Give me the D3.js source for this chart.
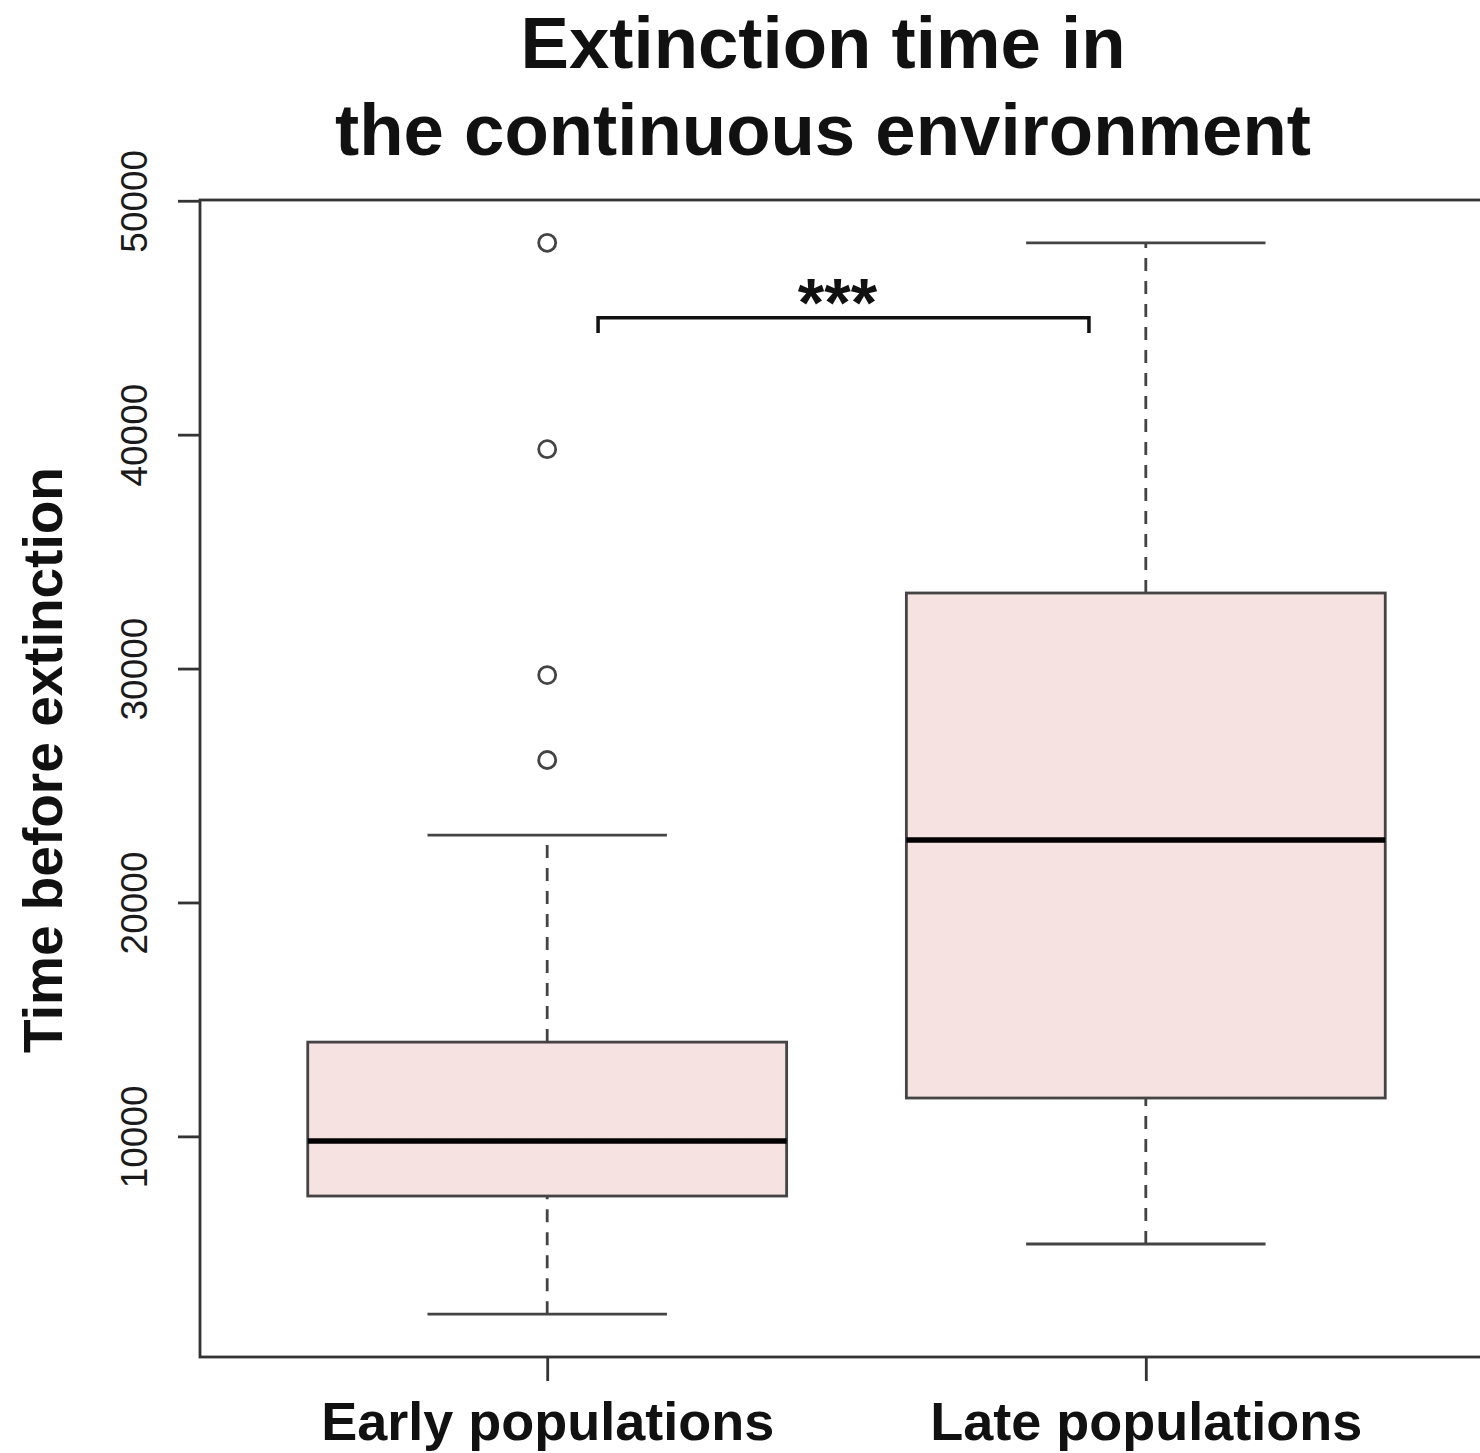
<!DOCTYPE html>
<html>
<head>
<meta charset="utf-8">
<script src="https://cdn.jsdelivr.net/npm/d3@7"></script>
<style>
  html, body { margin: 0; padding: 0; background: #fff; }
  svg { display: block; font-family: "Liberation Sans", Arial, Helvetica, sans-serif; }
</style>
</head>
<body>
<svg id="chart" width="1480" height="1453"></svg>
<script>
// Groups and their five-number summaries (time before extinction)
const groups = ["Early populations", "Late populations"];
const whiskerLow = [2400, 5400];
const quartile1 = [7450, 11640];
const medians = [9800, 22670];
const quartile3 = [14030, 33230];
const whiskerHigh = [22880, 48200];
// Outlying runs beyond the whiskers, per group
const outliers = [[26090, 29720, 39380, 48200], []];
const yTicks = [10000, 20000, 30000, 40000, 50000];

// Significance bracket between the two groups
const bracketFrom = 1.085, bracketTo = 1.905, bracketY = 45000, bracketDrop = 44350;
const bracketLabel = "***";

const titleLines = ["Extinction time in", "the continuous environment"];
const yTitle = "Time before extinction";

const svg = d3.select("#chart");
const plotLeft = 200, plotTop = 200, plotBottom = 1357;

// R-style axis ranges: 4% padding on both ends
const allVals = whiskerLow.concat(whiskerHigh, outliers.flat());
const lo = d3.min(allVals), hi = d3.max(allVals), pad = (hi - lo) * 0.04;
const y = d3.scaleLinear().domain([lo - pad, hi + pad]).range([plotBottom, plotTop]);
const x = d3.scaleLinear().domain([0.42, 2.58]).range([plotLeft, 1493]);
const boxHalf = 0.4, capHalf = 0.2;

const axisColor = "#333", boxStroke = "#444", fill = "#f6e2e1";

// Boxes
groups.forEach((g, i) => {
  const cx = i + 1;
  const grp = svg.append("g");
  // dashed whiskers
  [[whiskerLow[i], quartile1[i]], [quartile3[i], whiskerHigh[i]]].forEach(([a, b]) => {
    grp.append("line")
      .attr("x1", x(cx)).attr("x2", x(cx))
      .attr("y1", y(a)).attr("y2", y(b))
      .attr("stroke", boxStroke).attr("stroke-width", 2.8)
      .attr("stroke-dasharray", "13,10");
  });
  // whisker caps
  [whiskerLow[i], whiskerHigh[i]].forEach(v => {
    grp.append("line")
      .attr("x1", x(cx - capHalf)).attr("x2", x(cx + capHalf))
      .attr("y1", y(v)).attr("y2", y(v))
      .attr("stroke", boxStroke).attr("stroke-width", 2.8);
  });
  // box
  grp.append("rect")
    .attr("x", x(cx - boxHalf)).attr("width", x(cx + boxHalf) - x(cx - boxHalf))
    .attr("y", y(quartile3[i])).attr("height", y(quartile1[i]) - y(quartile3[i]))
    .attr("fill", fill).attr("stroke", boxStroke).attr("stroke-width", 2.8);
  // median
  grp.append("line")
    .attr("x1", x(cx - boxHalf)).attr("x2", x(cx + boxHalf))
    .attr("y1", y(medians[i])).attr("y2", y(medians[i]))
    .attr("stroke", "#000").attr("stroke-width", 5.5);
  // outliers
  grp.selectAll("circle").data(outliers[i]).join("circle")
    .attr("cx", x(cx)).attr("cy", d => y(d)).attr("r", 8.5)
    .attr("fill", "none").attr("stroke", boxStroke).attr("stroke-width", 2.8);
});

// Plot frame (right edge runs past the page)
svg.append("rect")
  .attr("x", plotLeft).attr("y", plotTop)
  .attr("width", x(2.58) - plotLeft + 20).attr("height", plotBottom - plotTop)
  .attr("fill", "none").attr("stroke", axisColor).attr("stroke-width", 2.8);

// Y axis
const yAxis = svg.append("g")
  .attr("transform", `translate(${plotLeft},0)`)
  .call(d3.axisLeft(y).tickValues(yTicks).tickSize(22).tickFormat(d3.format("d")));
yAxis.select(".domain").remove();
yAxis.selectAll(".tick line").attr("stroke", axisColor).attr("stroke-width", 2.8);
yAxis.selectAll(".tick text")
  .attr("x", 0).attr("dy", null)
  .attr("transform", "translate(-53,0) rotate(-90)")
  .attr("text-anchor", "middle")
  .attr("font-family", "Liberation Sans, Arial, sans-serif")
  .attr("font-size", 37).attr("fill", "#1a1a1a");

// X axis
const xAxis = svg.append("g")
  .attr("transform", `translate(0,${plotBottom})`)
  .call(d3.axisBottom(x).tickValues([1, 2]).tickSize(24).tickFormat(d => groups[d - 1]));
xAxis.select(".domain").remove();
xAxis.selectAll(".tick line").attr("stroke", axisColor).attr("stroke-width", 2.8);
xAxis.selectAll(".tick text")
  .attr("y", 83).attr("dy", null)
  .attr("font-family", "Liberation Sans, Arial, sans-serif")
  .attr("font-size", 54).attr("font-weight", "bold").attr("fill", "#111");

// Significance bracket
const bx1 = x(bracketFrom), bx2 = x(bracketTo);
svg.append("path")
  .attr("d", `M${bx1},${y(bracketDrop)}V${y(bracketY)}H${bx2}V${y(bracketDrop)}`)
  .attr("fill", "none").attr("stroke", "#111").attr("stroke-width", 3.5);
svg.append("text")
  .attr("x", (bx1 + bx2) / 2 - 6).attr("y", 326)
  .attr("text-anchor", "middle")
  .attr("font-size", 68).attr("font-weight", "bold").attr("fill", "#111")
  .text(bracketLabel);

// Y axis title
svg.append("text")
  .attr("transform", "translate(62,760) rotate(-90)")
  .attr("text-anchor", "middle")
  .attr("font-size", 55).attr("font-weight", "bold").attr("fill", "#111")
  .text(yTitle);

// Title
svg.selectAll("text.title").data(titleLines).join("text")
  .attr("class", "title")
  .attr("x", 823).attr("y", (d, i) => 68 + i * 87)
  .attr("text-anchor", "middle")
  .attr("font-size", 72.6).attr("font-weight", "bold").attr("fill", "#111")
  .text(d => d);
</script>
</body>
</html>
